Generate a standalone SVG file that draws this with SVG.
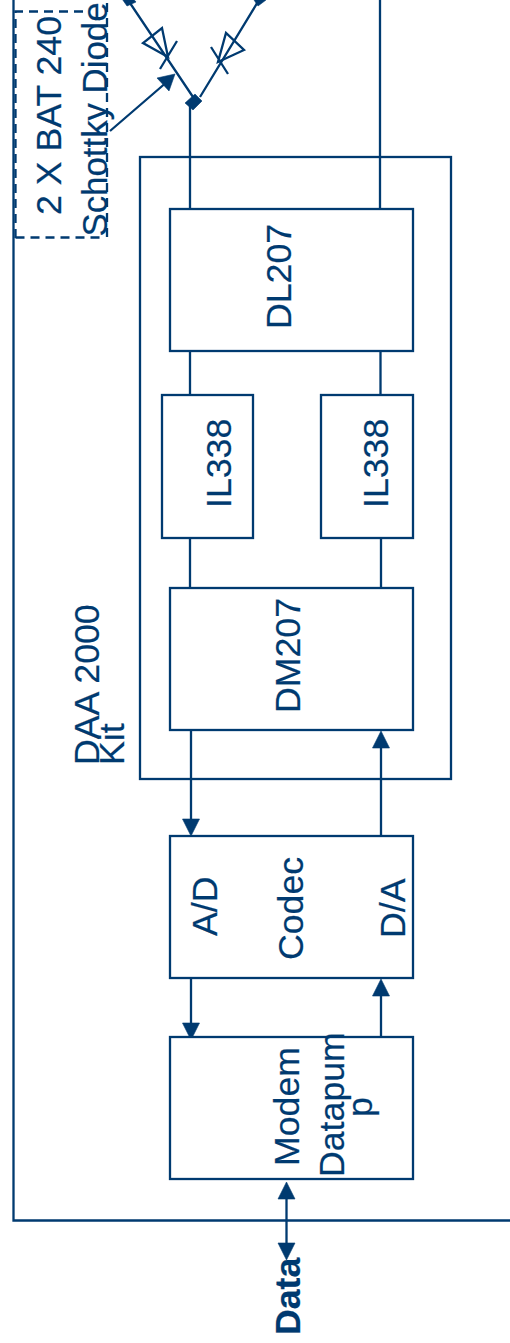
<svg xmlns="http://www.w3.org/2000/svg" width="510" height="1343" viewBox="0 0 510 1343">
<style>
.l{fill:none;stroke:#003a70;stroke-width:2.300}
.b{fill:#fff;stroke:#003a70;stroke-width:2.300}
.f{fill:#003a70;stroke:#003a70;stroke-width:.6}
text{font-family:"Liberation Sans",Arial,sans-serif;font-size:35.700px;fill:#003a70;stroke:#003a70;stroke-width:.2}
</style>
<rect width="510" height="1343" fill="#fff"/>
<g id="outer"><path class="l" d="M13.500 0V1220.500H510"/></g>
<g id="diode-group"><path class="l" d="M15.500 238V11.500H90M15.500 237.500H104M107 237V0" stroke-dasharray="9 6"/>
<text transform="translate(61,215) rotate(-90)">2 X BAT 240</text>
<text transform="translate(107,236.500) rotate(-90)" style="font-size:34.800px">Schottky Diode</text></g>
<g id="daa"><rect class="b" x="140" y="157" width="311" height="622"/>
<text transform="translate(99,765) rotate(-90)">DAA 2000</text>
<text transform="translate(124,765) rotate(-90)">Kit</text></g>
<g id="connectors">
<path class="l" d="M128 0L193 97M259 0L200 97M190 105V209M380 0V209M190 349V395M380.500 349V395M190 538V588M381 538V588M191 730V820M381 836V745M191 978V1024M381 1037V994M286.500 1195V1246M110 131L168 81"/>
<path class="l" d="M168 57L143 43L162 28ZM160 69L177 41M218 62L244 50L226 33ZM211 47L228 74"/>
<path class="f" d="M185 103L195 94L202 101L193 110ZM120 -4L129 -6L136 2L127 6ZM252 -3L262 -6L266 0L258 6ZM175 74L157 78L169 91ZM191 836L182.500 819H199.500ZM381 731L372.500 748H389.500ZM191 1040L182.500 1023H199.500ZM381 979L372.500 996H389.500ZM286.500 1182L278 1199H295ZM286.500 1260L278 1243H295Z"/>
</g>
<g id="dl207"><rect class="b" x="170" y="209" width="243" height="142"/><text transform="translate(291,329) rotate(-90)">DL207</text></g>
<g id="il338-a"><rect class="b" x="162" y="395" width="91" height="143"/><text transform="translate(231,508) rotate(-90)">IL338</text></g>
<g id="il338-b"><rect class="b" x="321" y="395" width="92" height="143"/><text transform="translate(388,508) rotate(-90)">IL338</text></g>
<g id="dm207"><rect class="b" x="170" y="588" width="243" height="142"/><text transform="translate(300,713) rotate(-90)">DM207</text></g>
<g id="codec"><rect class="b" x="170" y="836" width="243" height="142"/>
<text transform="translate(217,936) rotate(-90)">A/D</text>
<text transform="translate(303,960) rotate(-90)">Codec</text>
<text transform="translate(405,938) rotate(-90)">D/A</text></g>
<g id="modem"><rect class="b" x="170" y="1037" width="243" height="142"/>
<text transform="translate(299,1166) rotate(-90)">Modem</text>
<text transform="translate(344,1177) rotate(-90)">Datapum</text>
<text transform="translate(372,1117) rotate(-90)">p</text></g>
<g id="data"><text transform="translate(300,1335) rotate(-90)" style="font-weight:700">Data</text></g>
</svg>
